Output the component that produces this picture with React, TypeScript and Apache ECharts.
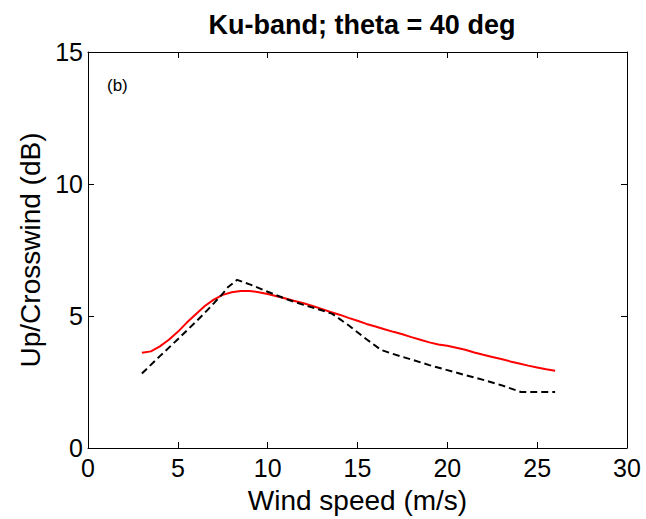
import React, { useEffect, useRef } from "react";
import * as echarts from "echarts";

const titleText = "Ku-band; theta = 40 deg";
const xName = "Wind speed (m/s)";
const yName = "Up/Crosswind (dB)";
const panelLabel = "(b)";

const redX = [3, 3.5, 4, 4.5, 5, 5.5, 6, 6.5, 7, 7.5, 8, 8.5, 9, 9.5, 10, 10.5, 11, 11.5, 12, 12.5, 13, 13.5, 14, 14.5, 15, 15.5, 16, 16.5, 17, 17.5, 18, 18.5, 19, 19.5, 20, 20.5, 21, 21.5, 22, 22.5, 23, 23.5, 24, 24.5, 25, 25.5, 26];
const redY = [3.61, 3.66, 3.85, 4.1, 4.4, 4.75, 5.07, 5.38, 5.62, 5.8, 5.9, 5.95, 5.95, 5.9, 5.83, 5.75, 5.66, 5.57, 5.48, 5.38, 5.27, 5.15, 5.05, 4.93, 4.82, 4.7, 4.6, 4.5, 4.4, 4.31, 4.2, 4.1, 4.0, 3.92, 3.87, 3.8, 3.72, 3.62, 3.53, 3.45, 3.37, 3.28, 3.2, 3.12, 3.05, 2.98, 2.93];

const blackX = [3, 4, 5, 6, 6.5, 7, 7.5, 7.8, 8.3, 9, 10, 11, 12, 13, 13.6, 14.5, 15.5, 16.3, 16.8, 18, 19, 20, 21, 22, 23, 24.1, 26];
const blackY = [2.82, 3.48, 4.12, 4.78, 5.12, 5.48, 5.85, 6.1, 6.37, 6.2, 5.92, 5.65, 5.42, 5.22, 5.08, 4.65, 4.12, 3.72, 3.6, 3.35, 3.14, 2.95, 2.76, 2.58, 2.38, 2.12, 2.12];

const xTicks = [0, 5, 10, 15, 20, 25, 30];
const yTicks = [0, 5, 10, 15];

const FONT = "'Liberation Sans', Arial, sans-serif";

export default function App() {
  const ref = useRef<HTMLDivElement>(null);
  useEffect(() => {
    if (!ref.current) return;
    const chart = echarts.init(ref.current, null, { renderer: "svg" });
    const xMin = xTicks[0];
    const xMax = xTicks[xTicks.length - 1];
    const yMin = yTicks[0];
    const yMax = yTicks[yTicks.length - 1];
    const common = {
      axisLine: { show: true, onZero: false, lineStyle: { color: "#000", width: 1 } },
      axisTick: { show: true, inside: true, length: 6, lineStyle: { color: "#000" } },
      splitLine: { show: false },
    };
    chart.setOption({
      animation: false,
      backgroundColor: "#fff",
      title: {
        text: titleText,
        left: 357,
        textAlign: "center",
        top: 6,
        textStyle: { fontFamily: FONT, fontSize: 27, fontWeight: "bold", color: "#000" },
      },
      grid: { left: 88, right: 19, top: 52, bottom: 71, containLabel: false },
      xAxis: [
        {
          type: "value",
          min: xMin,
          max: xMax,
          interval: 5,
          position: "bottom",
          name: xName,
          nameLocation: "middle",
          nameGap: 38,
          nameTextStyle: { fontFamily: FONT, fontSize: 28, color: "#000" },
          axisLabel: { fontFamily: FONT, fontSize: 25, color: "#000", margin: 7 },
          ...common,
        },
        {
          type: "value",
          min: xMin,
          max: xMax,
          interval: 5,
          position: "top",
          axisLabel: { show: false },
          ...common,
        },
      ],
      yAxis: [
        {
          type: "value",
          min: yMin,
          max: yMax,
          interval: 5,
          position: "left",
          name: yName,
          nameLocation: "middle",
          nameGap: 40,
          nameTextStyle: { fontFamily: FONT, fontSize: 28, color: "#000" },
          axisLabel: { fontFamily: FONT, fontSize: 25, color: "#000", margin: 5 },
          ...common,
        },
        {
          type: "value",
          min: yMin,
          max: yMax,
          interval: 5,
          position: "right",
          axisLabel: { show: false },
          ...common,
        },
      ],
      graphic: [
        {
          type: "text",
          left: 107,
          top: 77,
          style: { text: panelLabel, font: `17px ${FONT}`, fill: "#000" },
        },
      ],
      series: [
        {
          type: "line",
          data: redX.map((x, i) => [x, redY[i]]),
          showSymbol: false,
          smooth: false,
          lineStyle: { color: "#ff0000", width: 2 },
        },
        {
          type: "line",
          data: blackX.map((x, i) => [x, blackY[i]]),
          showSymbol: false,
          smooth: false,
          lineStyle: { color: "#000", width: 2, type: [7, 4] },
        },
      ],
    });
    return () => chart.dispose();
  }, []);
  return <div ref={ref} style={{ width: 646, height: 519, position: "absolute", left: 0, top: 0 }} />;
}
